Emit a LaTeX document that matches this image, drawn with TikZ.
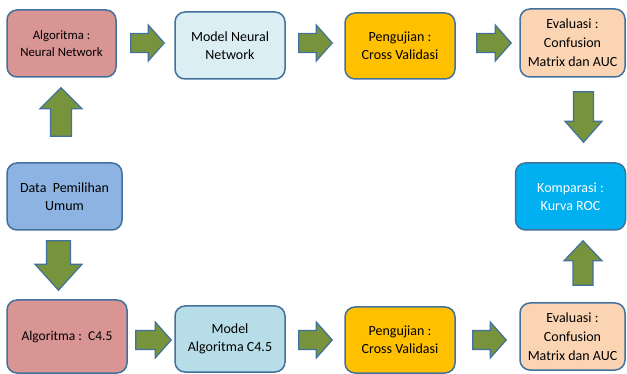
\documentclass[tikz,border=0pt]{standalone}
\usepackage{fontspec}
\setmainfont{Carlito}
\usetikzlibrary{calc}
\definecolor{bord}{HTML}{41719C}
\definecolor{arrg}{HTML}{77933C}
\definecolor{cpink}{HTML}{D99594}
\definecolor{cltb}{HTML}{DAEEF3}
\definecolor{cltb2}{HTML}{B7DDE8}
\definecolor{cora}{HTML}{FFC000}
\definecolor{cpeach}{HTML}{FBD4B4}
\definecolor{ccyan}{HTML}{00B0F0}
\definecolor{cblue}{HTML}{8DB3E2}
\tikzset{
  box/.style={draw=bord, line width=1.5pt, rounded corners=10pt, align=center,
    font=\fontsize{14}{18}\selectfont, inner sep=2pt},
  blk/.style={draw=bord, line width=1.2pt, fill=arrg, line join=miter},
}
% #1 start, #2 end, #3 shaft half width, #4 head half width, #5 head length
\newcommand\blkarrow[5]{%
  \coordinate (ba1) at (#1);
  \coordinate (ba2) at (#2);
  \coordinate (bh) at ($(ba2)!#5!(ba1)$);
  \draw[blk] ($(ba1)!#3!90:(ba2)$) -- ($(bh)!#3!90:(ba2)$) --
    ($(bh)!#4!90:(ba2)$) -- (ba2) -- ($(bh)!#4!-90:(ba2)$) --
    ($(bh)!#3!-90:(ba2)$) -- ($(ba1)!#3!-90:(ba2)$) -- cycle;
}
\begin{document}
\begin{tikzpicture}[x=1pt,y=-1pt]
\useasboundingbox (0,0) rectangle (627,374);
\node[box, fill=cpink, minimum width=109pt, minimum height=67pt, font=\fontsize{12.8}{17}\selectfont] (algnn) at (61.5,43.5) {Algoritma :\\Neural Network};
\node[box, fill=cltb, minimum width=110pt, minimum height=67pt] (modnn) at (230,45.5) {Model Neural\\Network};
\node[box, fill=cora, minimum width=110pt, minimum height=66pt] (uji1) at (400,46) {Pengujian :\\Cross Validasi};
\node[box, fill=cpeach, minimum width=105pt, minimum height=68pt, font=\fontsize{14}{19}\selectfont] (eval1) at (572.5,43) {Evaluasi :\\Confusion\\Matrix dan AUC};
\node[box, fill=ccyan, text=white, minimum width=110pt, minimum height=67pt] (komp) at (570.5,196.5) {Komparasi :\\Kurva ROC};
\node[box, fill=cpeach, minimum width=105pt, minimum height=67pt, font=\fontsize{14}{19}\selectfont] (eval2) at (572.5,336.5) {Evaluasi :\\Confusion\\Matrix dan AUC};
\node[box, fill=cora, minimum width=110pt, minimum height=66pt] (uji2) at (400,340) {Pengujian :\\Cross Validasi};
\node[box, fill=cltb2, minimum width=110pt, minimum height=66pt] (modc) at (230,339) {Model\\Algoritma C4.5};
\node[box, fill=cpink, minimum width=120pt, minimum height=73pt, font=\fontsize{13.5}{18}\selectfont] (algc) at (67,336.5) {Algoritma :\ \ C4.5};
\node[box, fill=cblue, minimum width=115pt, minimum height=67pt] (data) at (64.5,196.5) {Data\ \ Pemilihan\\Umum};

\blkarrow{$(algnn.east |- 0,43)+(14,0)$}{$(modnn.west |- 0,43)+(-10,0)$}{9.5pt}{18pt}{16pt}
\blkarrow{$(modnn.east |- 0,43)+(13,0)$}{$(uji1.west |- 0,43)+(-12,0)$}{9.5pt}{18pt}{16pt}
\blkarrow{$(uji1.east |- 0,43)+(21,0)$}{$(eval1.west |- 0,43)+(-8,0)$}{9.5pt}{18pt}{16pt}
\blkarrow{$(eval1.south -| 583.5,0)+(0,14)$}{$(komp.north -| 583.5,0)+(0,-20)$}{10pt}{18.5pt}{21pt}
\blkarrow{$(eval2.north -| 583,0)+(0,-17)$}{$(komp.south -| 583,0)+(0,10)$}{10pt}{19pt}{20pt}
\blkarrow{$(uji2.east |- 0,340)+(17,0)$}{$(eval2.west |- 0,340)+(-13,0)$}{9.5pt}{18pt}{16pt}
\blkarrow{$(modc.east |- 0,340)+(13,0)$}{$(uji2.west |- 0,340)+(-12,0)$}{9.5pt}{18pt}{16pt}
\blkarrow{$(algc.east |- 0,340)+(8,0)$}{$(modc.west |- 0,340)+(-3,0)$}{9.5pt}{18pt}{16pt}
\blkarrow{$(data.south -| 58.5,0)+(0,10)$}{$(algc.north -| 58.5,0)+(0,-9)$}{12pt}{23.5pt}{26pt}
\blkarrow{$(data.north -| 61,0)+(0,-26)$}{$(algnn.south -| 61,0)+(0,10)$}{10.5pt}{21pt}{21pt}
\end{tikzpicture}
\end{document}
